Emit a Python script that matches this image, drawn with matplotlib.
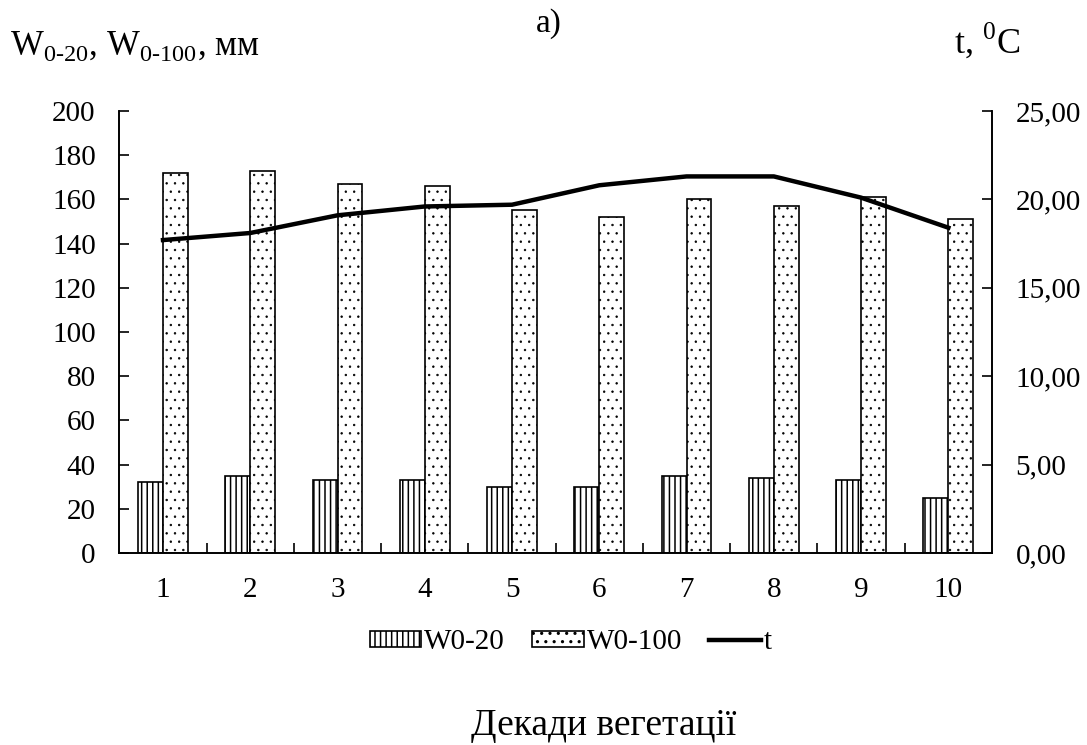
import numpy as np
import matplotlib
matplotlib.use('Agg')
import matplotlib.pyplot as plt
from matplotlib.ticker import FuncFormatter, FixedLocator
from matplotlib.patches import Patch
from matplotlib.lines import Line2D

plt.rcParams['font.family'] = ['Liberation Serif', 'DejaVu Serif']
plt.rcParams['mathtext.fontset'] = 'custom'
plt.rcParams['mathtext.rm'] = 'Liberation Serif'
plt.rcParams['hatch.linewidth'] = 1.1

# Дані з графіка
dekady = [1, 2, 3, 4, 5, 6, 7, 8, 9, 10]
w0_20 = [32, 35, 33, 33, 30, 30, 35, 34, 33, 25]
w0_100 = [172, 173, 167, 166, 155, 152, 160, 157, 161, 151]
temp = [17.7, 18.1, 19.1, 19.6, 19.7, 20.8, 21.3, 21.3, 20.1, 18.4]

fig = plt.figure(figsize=(10.87, 7.45), dpi=100)
ax = fig.add_axes([0.1098, 0.2577, 0.8028, 0.5933])
ax2 = ax.twinx()

x = np.arange(len(dekady))
w = 0.285
b1 = ax.bar(x - w / 2, w0_20, w, color='white', edgecolor='black', lw=1.2, hatch='|||')
b2 = ax.bar(x + w / 2, w0_100, w, color='white', edgecolor='black', lw=1.2, hatch='..')
# крапки дрібніші
for p in b2.patches:
    if hasattr(p, 'set_hatch_linewidth'):
        p.set_hatch_linewidth(0.5)
ax2.plot(x, temp, color='black', lw=3.2, solid_joinstyle='round')

ax.set_xlim(-0.5, len(dekady) - 0.5)
ax.set_ylim(0, 200)
ax.set_yticks(np.arange(0, 201, 20))
ax2.set_ylim(0, 25)
ax2.set_yticks(np.arange(0, 26, 5))
ax2.yaxis.set_major_formatter(FuncFormatter(lambda v, p: ('%.2f' % v).replace('.', ',')))

ax.set_xticks(x)
ax.set_xticklabels([str(d) for d in dekady])
ax.xaxis.set_minor_locator(FixedLocator(np.arange(0.5, len(dekady) - 1, 1)))
ax.tick_params(axis='x', which='major', length=0, labelsize=21, pad=17)
ax.tick_params(axis='x', which='minor', direction='in', length=7, width=1.2)
ax.tick_params(axis='y', direction='in', length=7, width=1.2, labelsize=21, pad=17)
ax2.tick_params(axis='y', direction='in', length=7, width=1.2, labelsize=21, pad=17)

for a in (ax, ax2):
    a.spines['top'].set_visible(False)
    for s in ('left', 'right', 'bottom'):
        a.spines[s].set_linewidth(1.2)

# Підписи
fig.text(0.009, 0.938, r'W$_{\text{0-20}}$, W$_{\text{0-100}}$, мм', fontsize=25, va='center', ha='left')
fig.text(0.505, 0.968, 'а)', fontsize=24, va='center', ha='center')
fig.text(0.878, 0.945, r't, $^{\text{0}}$C', fontsize=26, va='center', ha='left')
fig.text(0.555, 0.0134, 'Декади вегетації', fontsize=27, va='baseline', ha='center')

handles = [Patch(facecolor='white', edgecolor='black', hatch='|||', lw=1.2),
           Patch(facecolor='white', edgecolor='black', hatch='..', lw=1.2),
           Line2D([], [], color='black', lw=3.2)]
fig.legend(handles, ['W0-20', 'W0-100', 't'], loc='center', bbox_to_anchor=(0.525, 0.138),
           ncol=3, frameon=False, fontsize=21, handlelength=1.78, handleheight=0.5,
           handletextpad=0.1, columnspacing=0.92, borderpad=0.2)

fig.savefig('out.png', dpi=100)
